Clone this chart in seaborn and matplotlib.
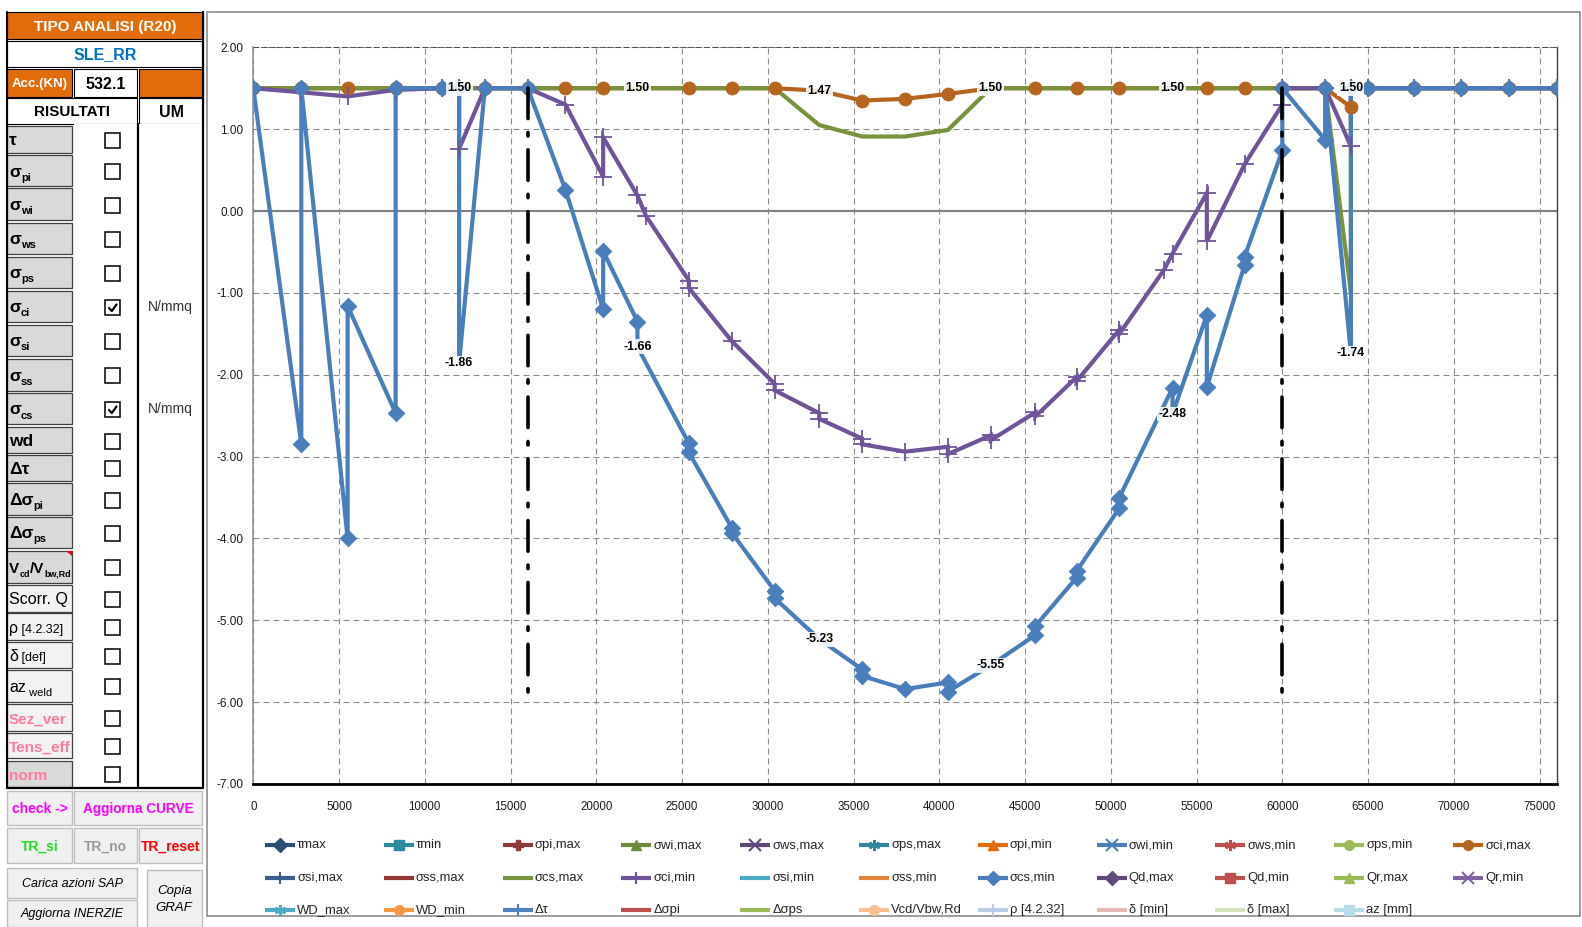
import numpy as np
import pandas as pd
import matplotlib
matplotlib.use("Agg")
import matplotlib.pyplot as plt
import seaborn as sns
from matplotlib import font_manager
from matplotlib.patches import Rectangle, Polygon

# ---------------- data ----------------
# sigma_ci,max  (brown, circles)
ci_max_x = [0, 2800, 5500, 8300, 11000, 12000, 13500, 16000, 18200, 20400, 22400, 25400,
            27900, 30400, 33000, 35500, 38000, 40500, 43000, 45600, 48000, 50500, 53600,
            55600, 57800, 60000, 62500, 64000, 64000, 65000, 67700, 70400, 73200, 76000]
ci_max_y = [1.50, 1.50, 1.50, 1.50, 1.50, 1.50, 1.50, 1.50, 1.50, 1.50, 1.50, 1.50,
            1.50, 1.50, 1.47, 1.35, 1.37, 1.43, 1.50, 1.50, 1.50, 1.50, 1.50,
            1.50, 1.50, 1.50, 1.50, 1.27, 1.50, 1.50, 1.50, 1.50, 1.50, 1.50]

# sigma_cs,max  (green, plain line)
cs_max_x = [0, 2800, 5500, 8300, 11000, 13500, 16000, 18200, 20400, 22400, 25400, 27900,
            30400, 33000, 35500, 38000, 40500, 43000, 45600, 48000, 50500, 53600, 55600,
            57800, 60000, 62500, 64000, 64000, 65000, 67700, 70400, 73200, 76000]
cs_max_y = [1.50, 1.50, 1.50, 1.50, 1.50, 1.50, 1.50, 1.50, 1.50, 1.50, 1.50, 1.50,
            1.50, 1.05, 0.91, 0.91, 0.99, 1.50, 1.50, 1.50, 1.50, 1.50, 1.50,
            1.50, 1.50, 1.50, -1.00, 1.50, 1.50, 1.50, 1.50, 1.50, 1.50]

# sigma_ci,min  (purple, plus markers)
ci_min_x = [0, 2800, 5500, 8300, 11000, 12000, 12000, 13500, 16000, 18200, 20400, 20400,
            22400, 22900, 25400, 25400, 27900, 30400, 30400, 33000, 33000, 35500, 35500,
            38000, 40500, 40500, 43000, 43000, 45600, 45600, 48000, 48000, 50500, 50500,
            53100, 53600, 55600, 55600, 57800, 60000, 60000, 62500, 64000, 64000, 65000,
            67700, 70400, 73200, 76000]
ci_min_y = [1.50, 1.45, 1.40, 1.48, 1.50, 1.50, 0.76, 1.50, 1.50, 1.30, 0.42, 0.90,
            0.19, -0.06, -0.85, -0.94, -1.59, -2.11, -2.19, -2.47, -2.54, -2.78, -2.85,
            -2.94, -2.88, -2.97, -2.74, -2.80, -2.46, -2.51, -2.03, -2.08, -1.45, -1.50,
            -0.72, -0.52, 0.22, -0.37, 0.57, 1.30, 1.50, 1.50, 0.79, 1.50, 1.50,
            1.50, 1.50, 1.50, 1.50]

# sigma_cs,min  (blue, diamonds)
cs_min_x = [0, 2800, 2800, 5500, 5500, 8300, 8300, 11000, 12000, 12000, 13500, 16000,
            18200, 20400, 20400, 22400, 22400, 25400, 25400, 27900, 27900, 30400, 30400,
            33000, 35500, 35500, 38000, 40500, 40500, 43000, 45600, 45600, 48000, 48000,
            50500, 50500, 53600, 53600, 55600, 55600, 57800, 57800, 60000, 60000, 62500,
            62500, 64000, 64000, 65000, 67700, 70400, 73200, 76000]
cs_min_y = [1.50, -2.85, 1.50, -4.00, -1.16, -2.47, 1.50, 1.50, 1.50, -1.86, 1.50, 1.50,
            0.26, -1.20, -0.49, -1.35, -1.66, -2.84, -2.95, -3.87, -3.93, -4.64, -4.73,
            -5.23, -5.60, -5.68, -5.84, -5.76, -5.87, -5.55, -5.18, -5.07, -4.48, -4.40,
            -3.63, -3.50, -2.16, -2.48, -1.27, -2.15, -0.66, -0.56, 0.74, 1.50, 0.87,
            1.50, -1.74, 1.50, 1.50, 1.50, 1.50, 1.50, 1.50]

label_stations = [12000, 22400, 33000, 43000, 53600, 64000]
supports = [16000, 60000]
support_top, support_bottom = 1.50, -5.88

x_ticks = [0, 5000, 10000, 15000, 20000, 25000, 30000, 35000, 40000, 45000, 50000,
           55000, 60000, 65000, 70000, 75000]
y_ticks = [2, 1, 0, -1, -2, -3, -4, -5, -6, -7]

legend_labels = ["τmax", "τmin", "σpi,max", "σwi,max", "σws,max", "σps,max", "σpi,min",
                 "σwi,min", "σws,min", "σps,min", "σci,max",
                 "σsi,max", "σss,max", "σcs,max", "σci,min", "σsi,min", "σss,min",
                 "σcs,min", "Qd,max", "Qd,min", "Qr,max", "Qr,min",
                 "WD_max", "WD_min", "Δτ", "Δσpi", "Δσps", "Vcd/Vbw,Rd", "ρ [4.2.32]",
                 "δ [min]", "δ [max]", "az [mm]"]

# left control panel
panel_title = "TIPO ANALISI (R20)"
panel_case = "SLE_RR"
panel_acc_label, panel_acc_value = "Acc.(KN)", "532.1"
panel_rows = [
    [("τ", "b")], [("σ", "b"), ("pi", "s")], [("σ", "b"), ("wi", "s")],
    [("σ", "b"), ("ws", "s")], [("σ", "b"), ("ps", "s")], [("σ", "b"), ("ci", "s")],
    [("σ", "b"), ("si", "s")], [("σ", "b"), ("ss", "s")], [("σ", "b"), ("cs", "s")],
    [("wd", "b")], [("Δτ", "b")], [("Δσ", "b"), ("pi", "s")], [("Δσ", "b"), ("ps", "s")],
    [("V", "b2"), ("cd", "s2"), ("/V", "b2"), ("bw,Rd", "s2")],
    [("Scorr. Q", "r")], [("ρ", "r"), (" [4.2.32]", "rs")], [("δ", "r"), (" [def]", "rs")],
    [("az", "r"), (" weld", "rsub")], [("Sez_ver", "p")], [("Tens_eff", "p")], [("norm", "p")],
]
panel_checked = [False, False, False, False, False, True, False, False, True, False,
                 False, False, False, False, False, False, False, False, False, False, False]
panel_um = ["", "", "", "", "", "N/mmq", "", "", "N/mmq", "", "", "", "", "", "", "", "",
            "", "", "", ""]

# ---------------- styles ----------------
BROWN, GREEN, PURPLE, BLUE = "#B5651D", "#77933C", "#6F5499", "#4A7EBB"
ORANGE = "#E26B0A"
GRID = "#8C8C8C"

legend_styles = {
    "τmax": ("#2C4D75", "D"), "τmin": ("#2E8A9E", "s"), "σpi,max": ("#8E3B3B", "P"),
    "σwi,max": ("#6E8B3D", "^"), "σws,max": ("#5F497A", "x"), "σps,max": ("#31859C", (6, 2, 0)),
    "σpi,min": ("#E46C0A", "^"), "σwi,min": ("#4A7EBB", "x"), "σws,min": ("#C0504D", (6, 2, 0)),
    "σps,min": ("#9BBB59", "o"), "σci,max": (BROWN, "o"),
    "σsi,max": ("#3A5F8F", "+"), "σss,max": ("#953735", None), "σcs,max": (GREEN, None),
    "σci,min": (PURPLE, "+"), "σsi,min": ("#4BACC6", None), "σss,min": ("#E2843A", None),
    "σcs,min": (BLUE, "D"), "Qd,max": ("#604A7B", "D"), "Qd,min": ("#C0504D", "s"),
    "Qr,max": ("#9BBB59", "^"), "Qr,min": ("#8064A2", "x"),
    "WD_max": ("#4BACC6", (6, 2, 0)), "WD_min": ("#F79646", "o"), "Δτ": ("#4F81BD", "+"),
    "Δσpi": ("#C0504D", None), "Δσps": ("#9BBB59", None), "Vcd/Vbw,Rd": ("#FAC090", "o"),
    "ρ [4.2.32]": ("#B9CDE5", "+"), "δ [min]": ("#E6B9B8", None), "δ [max]": ("#D7E4BD", None),
    "az [mm]": ("#B7DEE8", "s"),
}

sns.set_style("white")
names = {f.name for f in font_manager.fontManager.ttflist}
NARROW = "Liberation Sans Narrow" if "Liberation Sans Narrow" in names else "Liberation Sans"
REG = "Liberation Sans"
plt.rcParams["font.family"] = [NARROW, "DejaVu Sans"]
plt.rcParams["axes.unicode_minus"] = False
plt.rcParams["lines.scale_dashes"] = False

W, H = 1582, 927
fig = plt.figure(figsize=(W / 100, H / 100), dpi=100)
fig.patch.set_facecolor("white")

bg = fig.add_axes([0, 0, 1, 1], zorder=0)
bg.set_xlim(0, W)
bg.set_ylim(H, 0)
bg.axis("off")

# ---------------- chart ----------------
L, R, T, B = 253.3, 1556.7, 47.3, 784.0
ax = fig.add_axes([L / W, 1 - B / H, (R - L) / W, (B - T) / H], zorder=1)
ax.set_facecolor("white")

series = [(ci_max_x, ci_max_y, BROWN), (cs_max_x, cs_max_y, GREEN),
          (ci_min_x, ci_min_y, PURPLE), (cs_min_x, cs_min_y, BLUE)]
for xs, ys, col in series:
    sns.lineplot(x=xs, y=ys, sort=False, estimator=None, errorbar=None, color=col,
                 lw=3.0, ax=ax, zorder=2, solid_joinstyle="miter")


def unlabelled(xs, ys, pick):
    keep = np.ones(len(xs), bool)
    for st in label_stations:
        idx = [i for i, x in enumerate(xs) if x == st]
        if idx:
            keep[pick(idx, key=lambda i: ys[i])] = False
    return np.asarray(xs)[keep], np.asarray(ys)[keep]


bx, by = unlabelled(ci_max_x, ci_max_y, max)
sns.scatterplot(x=bx, y=by, marker="o", s=85, color=BROWN, edgecolor=BROWN, ax=ax,
                zorder=3, legend=False)
sns.scatterplot(x=ci_min_x, y=ci_min_y, marker="+", s=150, color=PURPLE, linewidth=1.3,
                ax=ax, zorder=3, legend=False)
dx, dy = unlabelled(cs_min_x, cs_min_y, min)
sns.scatterplot(x=dx, y=dy, marker="D", s=70, color=BLUE, edgecolor=BLUE, ax=ax,
                zorder=3, legend=False)

for sx in supports:
    ax.plot([sx, sx], [support_top, support_bottom], color="black", lw=2.6,
            dashes=(22, 10, 2.5, 10), dash_capstyle="round", zorder=5)

box = dict(boxstyle="square,pad=0.12", fc="white", ec="none", alpha=0.85)
for st in label_stations:
    top = max(y for x, y in zip(ci_max_x, ci_max_y) if x == st)
    low = min(y for x, y in zip(cs_min_x, cs_min_y) if x == st)
    for v in (top, low):
        ax.text(st, v, f"{v:.2f}", ha="center", va="center", fontsize=8.8,
                fontweight="bold", color="black", bbox=box, zorder=6)

ax.set_xlim(0, 76000)
ax.set_ylim(-7, 2)
ax.set_xticks(x_ticks)
ax.set_yticks(y_ticks)
ax.set_xticklabels([f"{v}" for v in x_ticks])
ax.set_yticklabels([f"{v:.2f}" for v in y_ticks])
ax.set_axisbelow(True)
ax.grid(True, color=GRID, lw=0.8, dashes=(4.3, 2.9))
ax.axhline(0, color="#808080", lw=1.5, zorder=1)
ax.axhline(2, color="#3F3F3F", lw=1.2, dashes=(4.3, 1.5), zorder=1.5)
ax.tick_params(axis="y", direction="out", length=3, width=0.8, color=GRID, pad=4,
               labelsize=8.5, labelcolor="#1A1A1A")
ax.tick_params(axis="x", length=0, pad=12, labelsize=8.3, labelcolor="#1A1A1A")
ax.spines["top"].set_visible(False)
ax.spines["left"].set_color("#8C8C8C")
ax.spines["left"].set_linewidth(1.1)
ax.spines["right"].set_color("#3F3F3F")
ax.spines["right"].set_linewidth(1.0)
ax.spines["bottom"].set_color("black")
ax.spines["bottom"].set_linewidth(2.0)
ax.set_xlabel("")
ax.set_ylabel("")

# chart frame
bg.add_patch(Rectangle((207, 12), 1373, 904, fc="white", ec="#8C8C8C", lw=1.2))

# legend (3 rows x 11 columns)
row_y = [845, 878, 910]
for i, lab in enumerate(legend_labels):
    col, row = i % 11, i // 11
    x0 = 265 + col * 118.8
    y = row_y[row]
    c, m = legend_styles[lab]
    bg.plot([x0, x0 + 30], [y, y], color=c, lw=3.0, solid_capstyle="butt")
    if m is not None:
        thin = m in ("+", "x") or isinstance(m, tuple)
        bg.plot([x0 + 15], [y], marker=m, ms=8 if thin else 7, color=c,
                mew=1.5 if thin else 1, ls="none")
    bg.text(x0 + 32, y, lab, ha="left", va="center", fontsize=9.4, color="#262626")

# ---------------- left panel ----------------
def cell(x0, y0, x1, y1, fc, ec="black", lw=0.8):
    bg.add_patch(Rectangle((x0, y0), x1 - x0, y1 - y0, fc=fc, ec=ec, lw=lw))


def ctext(x0, y0, x1, y1, s, **kw):
    bg.text((x0 + x1) / 2, (y0 + y1) / 2 + 1, s, ha="center", va="center", **kw)


cell(6.7, 11.7, 203.3, 39.3, ORANGE)
ctext(6.7, 11.7, 203.3, 39.3, panel_title, color="white", fontweight="bold", fontsize=11)
cell(6.7, 40.7, 203.3, 67.3, "white")
ctext(6.7, 40.7, 203.3, 67.3, panel_case, color="#0070C0", fontweight="bold", fontsize=11.5)
cell(6.7, 69.3, 71.7, 96.7, ORANGE)
ctext(6.7, 69.3, 71.7, 96.7, panel_acc_label, color="white", fontweight="bold", fontsize=9.5)
cell(74, 69.3, 137.3, 96.7, "white")
ctext(74, 69.3, 137.3, 96.7, panel_acc_value, color="black", fontweight="bold", fontsize=11.5)
cell(139.3, 69.3, 203.3, 96.7, ORANGE)
cell(6.7, 98.3, 137.3, 124, "white")
ctext(6.7, 98.3, 137.3, 124, "RISULTATI", color="black", fontweight="bold", fontsize=11)
cell(139.3, 98.3, 203.3, 124, "white")
ctext(139.3, 98.3, 203.3, 124, "UM", color="black", fontweight="bold", fontsize=11.5)

row_bounds = [(126, 152.7), (155, 186), (188, 220), (222.7, 254), (256.7, 288.3),
              (290.7, 322.3), (325, 356), (359, 390.7), (392.7, 424.3), (427.3, 452.7),
              (455, 480.7), (483, 515), (517, 548), (550.7, 583), (585, 611.7),
              (613, 640), (641.7, 668.3), (670, 701.7), (704, 730.7), (732.7, 758.3),
              (760.7, 786.7)]
seg_styles = {
    "b": dict(size=12.5, weight="bold", color="black", dy=0, family=NARROW),
    "s": dict(size=8, weight="bold", color="black", dy=4, family=NARROW),
    "b2": dict(size=11, weight="bold", color="black", dy=0, family=NARROW),
    "s2": dict(size=6.5, weight="bold", color="black", dy=4, family=NARROW),
    "r": dict(size=11.5, weight="normal", color="black", dy=0, family=REG),
    "rs": dict(size=9, weight="normal", color="black", dy=0, family=NARROW),
    "rsub": dict(size=8, weight="normal", color="black", dy=4, family=NARROW),
    "p": dict(size=11, weight="bold", color="#FF7C9E", dy=0, family=NARROW),
}
light_rows = {"Scorr. Q", "ρ", "δ", "az", "Sez_ver", "Tens_eff"}
renderer = fig.canvas.get_renderer()
cell(74, 124, 203.3, 788, "white", ec="none")
for (y0, y1), segs, chk, um in zip(row_bounds, panel_rows, panel_checked, panel_um):
    fill = "#F2F2F2" if segs[0][0] in light_rows else "#D9D9D9"
    cell(6.7, y0, 71.7, y1, fill, ec="#404040", lw=0.9)
    yc = (y0 + y1) / 2
    x = 9.0
    for txt, kind in segs:
        st = seg_styles[kind]
        t = bg.text(x, yc + 6 + st["dy"], txt, ha="left", va="baseline", fontsize=st["size"],
                    fontweight=st["weight"], color=st["color"], family=[st["family"], "DejaVu Sans"])
        x += t.get_window_extent(renderer=renderer).width
    cell(105.2, yc - 6.5, 120.2, yc + 8.5, "white", ec="black", lw=1.1)
    if chk:
        bg.plot([109, 111.8, 116.5], [yc + 1.5, yc + 4.5, yc - 2], color="black", lw=1.6)
    if um:
        bg.text(170.7, yc + 1, um, ha="center", va="center", fontsize=10, color="#333333",
                family=[REG, "DejaVu Sans"])
# little comment flag on the Vcd cell
bg.add_patch(Polygon([[66, 550.7], [71.7, 550.7], [71.7, 556]], closed=True, fc="red", ec="none"))
bg.plot([6.7, 6.7], [11.7, 788], color="black", lw=1.5)
bg.plot([138.3, 138.3], [124, 788], color="black", lw=1.6)
bg.plot([203.3, 203.3], [11.7, 788], color="black", lw=1.6)
bg.plot([6.7, 203.3], [788, 788], color="black", lw=1.6)

buttons = [
    ("check ->", 7.3, 790.7, 71.7, 825, "#FF00FF", "bold", "normal", 10),
    ("Aggiorna CURVE", 74, 790.7, 201.7, 825, "#FF00FF", "bold", "normal", 9.8),
    ("TR_si", 7.3, 828, 71.7, 863, "#22DD22", "bold", "normal", 10),
    ("TR_no", 74, 828, 137.3, 863, "#9A9A9A", "bold", "normal", 10),
    ("TR_reset", 139.3, 828, 201.7, 863, "#FF0000", "bold", "normal", 10),
    ("Carica azioni SAP", 7.3, 868, 137.3, 898, "black", "normal", "italic", 9),
    ("Aggiorna INERZIE", 7.3, 900, 137.3, 927, "black", "normal", "italic", 9),
    ("Copia\nGRAF", 146.7, 870, 201.7, 927, "black", "normal", "italic", 9.5),
]
for txt, x0, y0, x1, y1, c, fw, fs, sz in buttons:
    cell(x0, y0, x1, y1, "#F0F0F0", ec="#BEBEBE", lw=1.0)
    ctext(x0, y0, x1, y1, txt, color=c, fontweight=fw, fontstyle=fs, fontsize=sz,
          linespacing=1.6)

fig.savefig("out.png", dpi=100, facecolor="white")
